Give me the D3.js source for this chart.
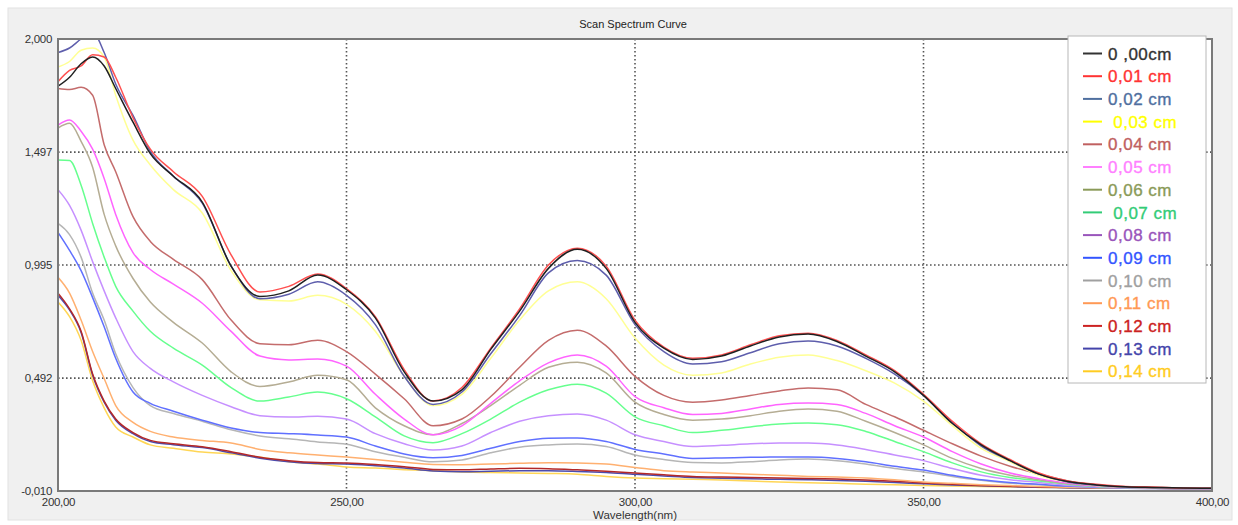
<!DOCTYPE html>
<html>
<head>
<meta charset="utf-8">
<script src="https://cdn.jsdelivr.net/npm/d3@7"></script>
<style>
  body { margin: 0; background: #fff; }
  text { font-family: "Liberation Sans", Arial, sans-serif; }
</style>
</head>
<body>
<svg id="chart" width="1238" height="525"></svg>
<script>
// wavelength (nm) where each absorbance value was read
const wavelengths = [200,202,204,206,208,210,213,216,220,225,230,235,240,245,250,255,260,265,270,275,280,285,290,295,300,305,310,315,320,325,330,335,340,345,350,355,360,365,370,375,380,385,390,395,400];

const abs000 = [1.79,1.83,1.89,1.92,1.88,1.78,1.63,1.49,1.39,1.275,0.99,0.855,0.88,0.95,0.885,0.76,0.52,0.39,0.44,0.62,0.79,0.98,1.065,0.98,0.74,0.625,0.575,0.59,0.635,0.675,0.688,0.655,0.59,0.52,0.415,0.29,0.195,0.125,0.065,0.032,0.017,0.009,0.006,0.003,0.002];
const abs001 = [1.81,1.86,1.88,1.93,1.92,1.83,1.65,1.51,1.41,1.30,1.04,0.875,0.90,0.955,0.89,0.765,0.53,0.39,0.45,0.625,0.80,0.995,1.07,0.99,0.75,0.63,0.58,0.595,0.64,0.68,0.692,0.66,0.595,0.525,0.42,0.30,0.20,0.13,0.07,0.035,0.02,0.01,0.008,0.003,0.002];
const abs002 = [1.94,1.96,2.00,2.03,1.94,1.80,1.66,1.50,1.39,1.27,0.99,0.845,0.865,0.92,0.86,0.73,0.50,0.375,0.43,0.60,0.77,0.96,1.015,0.95,0.73,0.61,0.555,0.565,0.605,0.645,0.657,0.635,0.58,0.51,0.415,0.295,0.19,0.125,0.065,0.03,0.016,0.008,0.005,0.003,0.002];
const abs003 = [1.875,1.90,1.95,1.96,1.92,1.75,1.55,1.44,1.33,1.226,0.97,0.84,0.835,0.86,0.82,0.70,0.50,0.37,0.42,0.58,0.75,0.88,0.92,0.845,0.67,0.55,0.505,0.515,0.555,0.585,0.595,0.57,0.525,0.47,0.39,0.28,0.18,0.12,0.06,0.03,0.015,0.008,0.005,0.003,0.002];
const abs004 = [1.78,1.775,1.785,1.75,1.53,1.41,1.21,1.10,1.02,0.93,0.75,0.645,0.64,0.66,0.61,0.51,0.40,0.28,0.31,0.41,0.54,0.66,0.705,0.635,0.50,0.415,0.385,0.395,0.415,0.435,0.448,0.44,0.375,0.32,0.26,0.20,0.145,0.10,0.065,0.035,0.017,0.009,0.005,0.003,0.002];
const abs005 = [1.617,1.64,1.59,1.51,1.38,1.22,1.05,0.975,0.91,0.825,0.70,0.59,0.573,0.577,0.545,0.42,0.31,0.24,0.28,0.38,0.48,0.56,0.595,0.545,0.41,0.36,0.33,0.335,0.355,0.375,0.381,0.375,0.335,0.28,0.23,0.165,0.11,0.07,0.045,0.025,0.012,0.007,0.004,0.002,0.001];
const abs006 = [1.604,1.625,1.545,1.43,1.22,1.08,0.935,0.83,0.74,0.648,0.52,0.455,0.475,0.505,0.485,0.36,0.28,0.24,0.29,0.37,0.46,0.54,0.563,0.515,0.385,0.33,0.305,0.31,0.325,0.345,0.355,0.345,0.30,0.25,0.195,0.135,0.09,0.06,0.04,0.022,0.012,0.007,0.004,0.002,0.001];
const abs007 = [1.462,1.46,1.35,1.18,1.03,0.90,0.79,0.70,0.625,0.55,0.45,0.39,0.408,0.43,0.40,0.32,0.235,0.205,0.245,0.31,0.385,0.44,0.465,0.425,0.32,0.28,0.25,0.26,0.275,0.288,0.292,0.285,0.255,0.21,0.165,0.115,0.075,0.05,0.035,0.02,0.01,0.006,0.003,0.002,0.001];
const abs008 = [1.33,1.26,1.15,1.01,0.88,0.76,0.61,0.535,0.475,0.415,0.365,0.325,0.319,0.322,0.31,0.245,0.20,0.172,0.19,0.25,0.30,0.325,0.332,0.305,0.24,0.21,0.188,0.193,0.20,0.203,0.203,0.195,0.175,0.15,0.125,0.09,0.06,0.04,0.028,0.016,0.009,0.005,0.003,0.002,0.001];
const abs009 = [1.14,1.06,0.97,0.85,0.72,0.58,0.43,0.38,0.345,0.305,0.27,0.25,0.245,0.239,0.23,0.19,0.155,0.138,0.148,0.18,0.21,0.225,0.226,0.21,0.175,0.155,0.135,0.137,0.14,0.141,0.141,0.135,0.12,0.10,0.083,0.06,0.04,0.028,0.02,0.012,0.007,0.004,0.002,0.001,0.001];
const abs010 = [1.18,1.13,1.03,0.87,0.75,0.60,0.45,0.37,0.335,0.30,0.262,0.235,0.222,0.208,0.198,0.165,0.14,0.12,0.128,0.16,0.185,0.195,0.199,0.188,0.15,0.13,0.117,0.115,0.12,0.128,0.132,0.125,0.11,0.09,0.075,0.055,0.038,0.025,0.018,0.011,0.006,0.004,0.002,0.001,0.001];
const abs011 = [0.94,0.87,0.75,0.61,0.49,0.37,0.295,0.255,0.23,0.215,0.203,0.175,0.16,0.15,0.141,0.13,0.118,0.108,0.107,0.11,0.113,0.116,0.115,0.11,0.095,0.08,0.074,0.07,0.065,0.06,0.055,0.052,0.048,0.04,0.03,0.024,0.018,0.014,0.01,0.007,0.005,0.003,0.002,0.001,0.001];
const abs012 = [0.87,0.80,0.70,0.51,0.39,0.31,0.25,0.215,0.20,0.187,0.165,0.14,0.125,0.117,0.115,0.108,0.098,0.086,0.084,0.088,0.091,0.089,0.084,0.078,0.07,0.062,0.055,0.052,0.05,0.048,0.046,0.043,0.039,0.033,0.026,0.02,0.015,0.011,0.008,0.006,0.004,0.003,0.002,0.001,0.001];
const abs013 = [0.86,0.795,0.695,0.505,0.385,0.305,0.245,0.21,0.196,0.183,0.16,0.136,0.12,0.112,0.11,0.102,0.092,0.079,0.076,0.078,0.08,0.08,0.077,0.072,0.064,0.057,0.05,0.047,0.044,0.042,0.04,0.037,0.033,0.028,0.022,0.017,0.013,0.01,0.007,0.005,0.003,0.002,0.001,0.001,0.0];
const abs014 = [0.83,0.765,0.66,0.48,0.36,0.275,0.23,0.195,0.18,0.163,0.155,0.14,0.12,0.11,0.097,0.092,0.085,0.08,0.075,0.072,0.07,0.068,0.065,0.055,0.048,0.045,0.042,0.039,0.035,0.03,0.027,0.024,0.02,0.018,0.015,0.012,0.01,0.008,0.006,0.005,0.004,0.003,0.003,0.002,0.002];

const seriesLabels = ["0 ,00cm","0,01 cm","0,02 cm"," 0,03 cm","0,04 cm","0,05 cm","0,06 cm"," 0,07 cm","0,08 cm","0,09 cm","0,10 cm","0,11 cm","0,12 cm","0,13 cm","0,14 cm"];
const lineColors  = ["#202020","#ff5050","#5e5eac","#ffff94","#c46c6c","#ff64ff","#b5ad94","#66ff8e","#c690ff","#6070ff","#b6b6b6","#ffb070","#b42828","#4c4cac","#ffd656"];
const labelColors = ["#333333","#ff3333","#4f6f9f","#ffff00","#c06060","#ff80ff","#8a9a58","#33cc77","#9955bb","#3355ff","#a0a0a0","#ff9955","#cc2222","#4444aa","#ffcc22"];

const xTicks = [200,250,300,350,400];
const yTicks = [-0.010,0.492,0.995,1.497,2.000];
const chartTitle = "Scan Spectrum Curve";
const xTitle = "Wavelength(nm)";

const absSeries = [abs000,abs001,abs002,abs003,abs004,abs005,abs006,abs007,abs008,abs009,abs010,abs011,abs012,abs013,abs014];
const series = absSeries.map((vals, i) => ({
  label: seriesLabels[i],
  color: lineColors[i],
  textColor: labelColors[i],
  points: wavelengths.map((w, j) => ({ w: w, a: vals[j] }))
}));

const svg = d3.select("#chart");
const plot = { left: 58, top: 39, right: 1212, bottom: 491 };

// outer panel
svg.append("rect").attr("x", 8).attr("y", 8).attr("width", 1224).attr("height", 512)
  .attr("fill", "#f0f0f0").attr("stroke", "#e2e2e2");

svg.append("text").attr("x", 633).attr("y", 28).attr("text-anchor", "middle")
  .attr("font-size", 11).attr("fill", "#222").text(chartTitle);

const x = d3.scaleLinear().domain([200, 400]).range([plot.left, plot.right]);
const y = d3.scaleLinear().domain([-0.010, 2.000]).range([plot.bottom, plot.top]);

svg.append("rect").attr("x", plot.left).attr("y", plot.top)
  .attr("width", plot.right - plot.left).attr("height", plot.bottom - plot.top)
  .attr("fill", "#fff");

// grid
const grid = svg.append("g").attr("stroke", "#555").attr("stroke-width", 1.6).attr("stroke-dasharray", "1.6,2.4");
grid.selectAll("line.v").data(xTicks.slice(1, -1)).enter().append("line")
  .attr("x1", d => x(d)).attr("x2", d => x(d)).attr("y1", plot.top).attr("y2", plot.bottom);
grid.selectAll("line.h").data(yTicks.slice(1, -1)).enter().append("line")
  .attr("x1", plot.left).attr("x2", plot.right).attr("y1", d => y(d)).attr("y2", d => y(d));

// axes labels
const fmt = (d, n) => d.toFixed(n).replace(".", ",");
const yAxis = d3.axisLeft(y).tickValues(yTicks).tickSize(0).tickPadding(6).tickFormat(d => fmt(d, 3));
const xAxis = d3.axisBottom(x).tickValues(xTicks).tickSize(0).tickPadding(7).tickFormat(d => fmt(d, 2));
const gy = svg.append("g").attr("transform", `translate(${plot.left},0)`).call(yAxis);
const gx = svg.append("g").attr("transform", `translate(0,${plot.bottom})`).call(xAxis);
[gy, gx].forEach(g => {
  g.select(".domain").remove();
  g.selectAll("text").attr("font-size", 11.5).attr("fill", "#333").attr("letter-spacing", -0.3)
    .attr("font-family", "'Liberation Sans', Arial, sans-serif");
});

svg.append("text").attr("x", (plot.left + plot.right) / 2).attr("y", 519).attr("text-anchor", "middle")
  .attr("font-size", 11.5).attr("fill", "#333").text(xTitle);

// curves
svg.append("clipPath").attr("id", "clip").append("rect")
  .attr("x", plot.left).attr("y", plot.top).attr("width", plot.right - plot.left).attr("height", plot.bottom - plot.top);

const line = d3.line().x(d => x(d.w)).y(d => y(d.a)).curve(d3.curveMonotoneX);
svg.append("g").attr("clip-path", "url(#clip)")
  .selectAll("path").data(series.slice().reverse()).enter().append("path")
  .attr("d", d => line(d.points))
  .attr("fill", "none").attr("stroke", d => d.color).attr("stroke-width", 1.5);

// frame
svg.append("rect").attr("x", plot.left).attr("y", plot.top)
  .attr("width", plot.right - plot.left).attr("height", plot.bottom - plot.top)
  .attr("fill", "none").attr("stroke", "#7a7a7a").attr("stroke-width", 2);

// legend
const lg = svg.append("g").attr("transform", "translate(1068,36)");
lg.append("rect").attr("width", 138).attr("height", 347).attr("fill", "#fff").attr("stroke", "#b8b8b8");
const items = lg.selectAll("g.item").data(series).enter().append("g")
  .attr("transform", (d, i) => `translate(0,${17.5 + i * 22.7})`);
items.append("line").attr("x1", 15).attr("x2", 34).attr("stroke", d => d.textColor).attr("stroke-width", 2);
items.append("text").attr("x", 40).attr("dy", "0.36em").style("white-space", "pre")
  .attr("font-family", "'DejaVu Sans', Verdana, sans-serif").attr("font-size", 17)
  .attr("letter-spacing", 0.5)
  .attr("stroke", d => d.textColor).attr("stroke-width", 0.35)
  .attr("fill", d => d.textColor).text(d => d.label);
</script>
</body>
</html>
